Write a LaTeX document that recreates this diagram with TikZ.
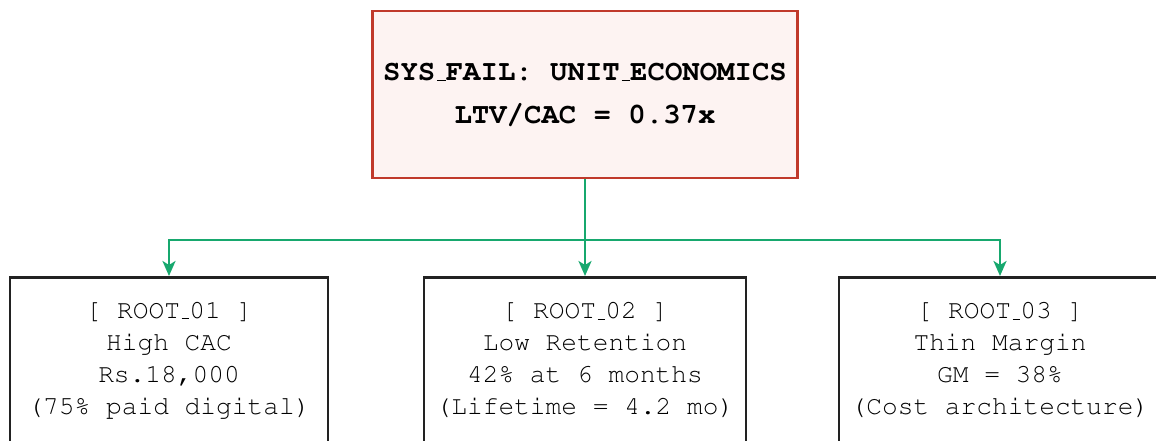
\documentclass[tikz,border=0pt]{standalone}
\usetikzlibrary{arrows.meta}
\newcommand{\cour}{\fontencoding{OT1}\fontfamily{pcr}}
\definecolor{failred}{HTML}{C0392B}
\definecolor{failfill}{HTML}{FDF3F2}
\definecolor{linkgreen}{HTML}{17A86E}
\definecolor{boxblack}{HTML}{222222}
\tikzset{
  topbox/.style={draw=failred, fill=failfill, line width=2.4pt, minimum width=425pt, minimum height=167pt,
    align=center, inner sep=0pt, font=\cour\bfseries\fontsize{29}{43}\selectfont},
  rootbox/.style={draw=boxblack, fill=white, line width=2.6pt, minimum height=166pt, anchor=north,
    align=center, inner sep=0pt, font=\cour\fontsize{26.2}{32}\selectfont},
  link/.style={draw=linkgreen, line width=2.6pt, -{Stealth[length=15pt,width=13pt,inset=4pt]}},
  trunk/.style={draw=linkgreen, line width=2.6pt}
}
\begin{document}
\begin{tikzpicture}[x=1pt,y=-1pt]
\useasboundingbox (0,0) rectangle (1156,440);
\clip (0,0) rectangle (1156,440);
\node[topbox] (top) at (585,94.5) {SYS\_FAIL: UNIT\_ECONOMICS\\LTV/CAC = 0.37x};
\node[rootbox, minimum width=318pt] (r1) at (169,276) {[ ROOT\_01 ]\\High CAC\\Rs.18,000\\(75\% paid digital)};
\node[rootbox, minimum width=322pt] (r2) at (585,276) {[ ROOT\_02 ]\\Low Retention\\42\% at 6 months\\(Lifetime = 4.2 mo)};
\node[rootbox, minimum width=322pt] (r3) at (1000,276) {[ ROOT\_03 ]\\Thin Margin\\GM = 38\%\\(Cost architecture)};
\coordinate (split) at (585,240);
\draw[trunk] (top.south) -- (split);
\draw[link] (split) -| (r1.north);
\draw[link] (split) -| (r3.north);
\draw[link] (top.south) -- (r2.north);
\end{tikzpicture}
\end{document}
